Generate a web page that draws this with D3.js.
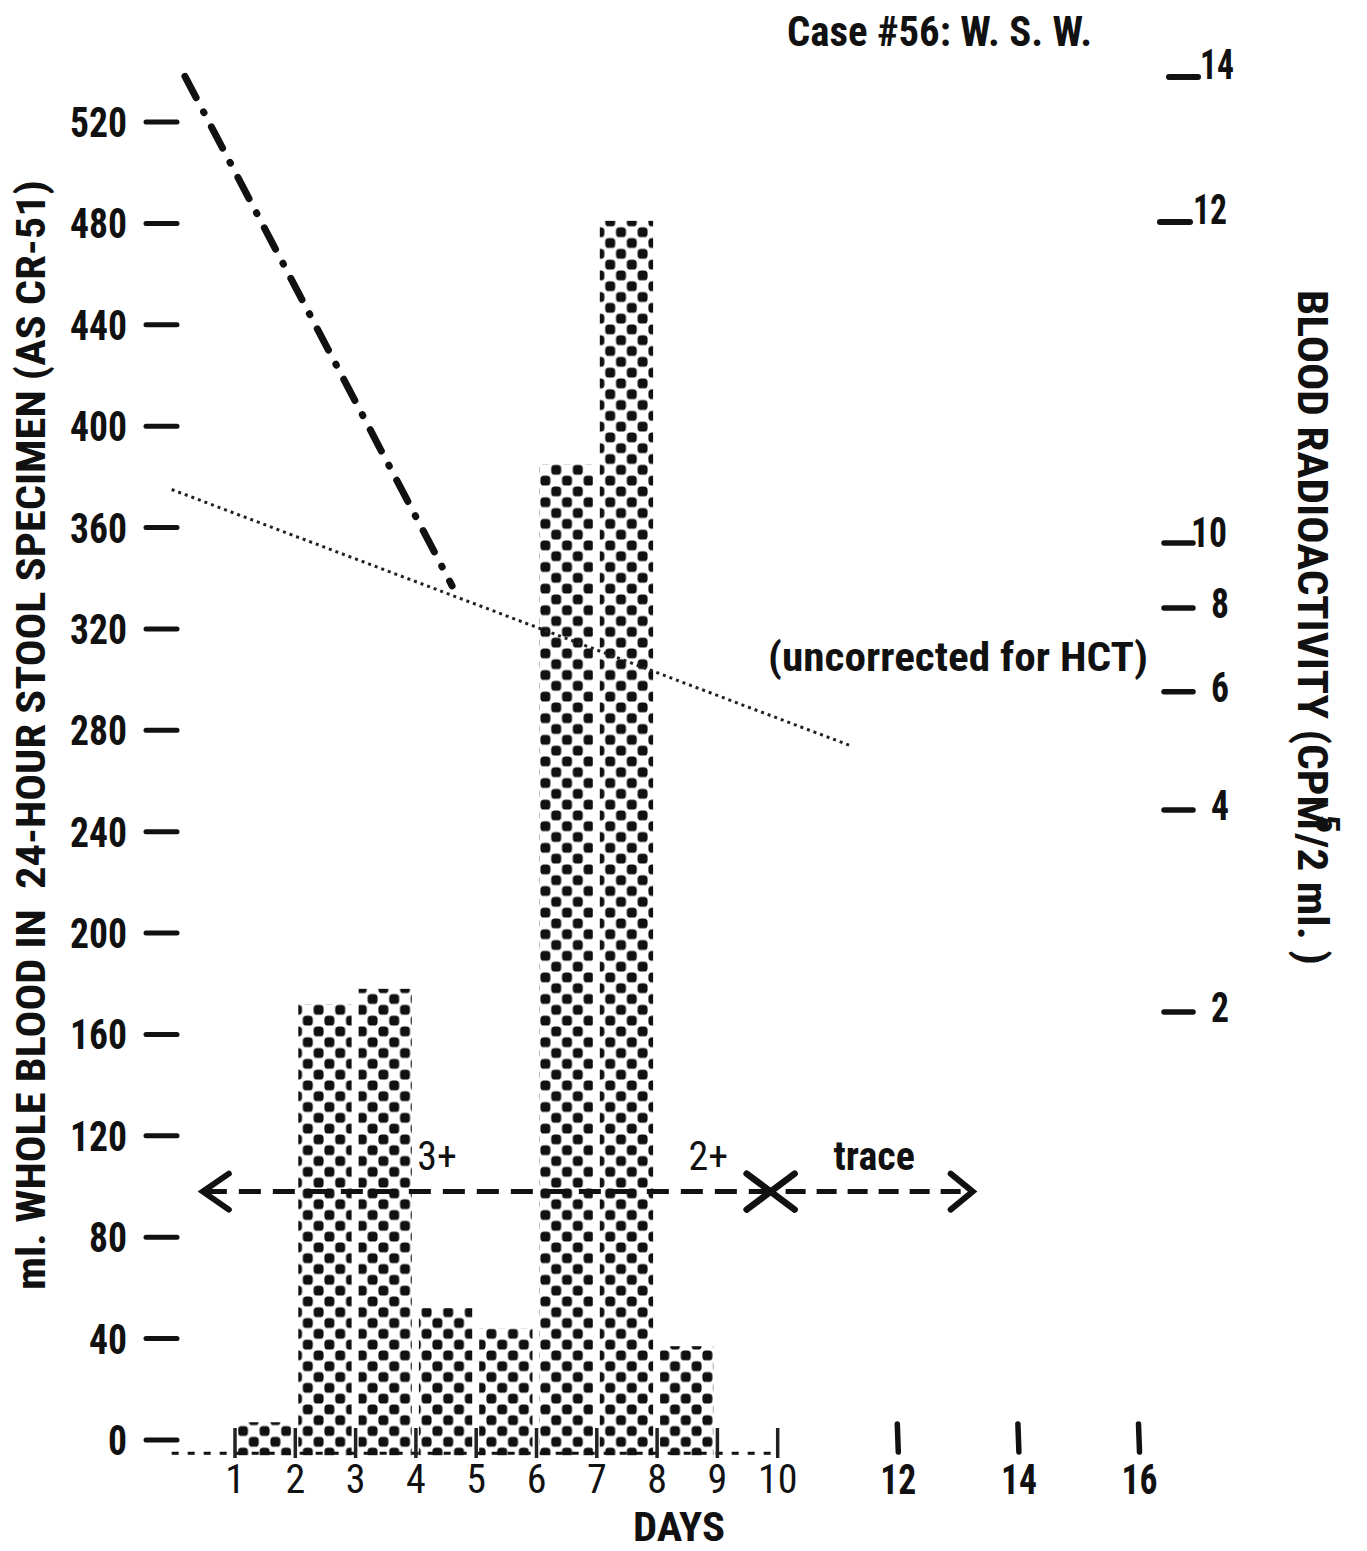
<!DOCTYPE html>
<html>
<head>
<meta charset="utf-8">
<script src="https://cdn.jsdelivr.net/npm/d3@7"></script>
<style>
  body { margin: 0; background: #fff; }
  text { font-family: "Liberation Sans Narrow", "Roboto Condensed", "DejaVu Sans Condensed", "Liberation Sans", sans-serif; fill: #111; }
</style>
</head>
<body>
<svg id="area" width="1367" height="1551"></svg>
<script>
// stool blood per day (ml.)
const barDays = [1, 2, 3, 4, 5, 6, 7, 8];
const barValues = [7, 172, 178, 52, 44, 385, 481, 37];

// left axis ticks
const leftTicks = [0, 40, 80, 120, 160, 200, 240, 280, 320, 360, 400, 440, 480, 520];
// day ticks
const dayTicks = [1, 2, 3, 4, 5, 6, 7, 8, 9, 10];
const dayTicksWide = [12, 14, 16];
// right axis (blood radioactivity)
const rightTicksLow = [2, 4, 6, 8, 10];
const rightTicksHigh = [12, 14];

// radioactivity lines, read against the left scale
const dashDotDays = [0.17, 4.6];
const dashDotVals = [538, 337];
const dottedDays = [-0.05, 11.2];
const dottedVals = [375, 274];

// occult blood band
const bandY = 98;
const bandLabels = ['3+', '2+', 'trace'];
const bandLabelDays = [4.35, 8.85, 11.6];
const bandStart = 0.5, bandCross = 9.8, bandEnd = 13.2;

const svg = d3.select('#area');

const x = d3.scaleLinear().domain([0, 16]).range([174.7, 1139.5]);
const y = d3.scaleLinear().domain([0, 520]).range([1440, 122]);
const rLow = d3.scaleLog().base(2).domain([2, 8]).range([1012, 608]);
const rHigh = d3.scaleLinear().domain([12, 14]).range([222, 77]);

// pattern for bars
const defs = svg.append('defs');
const pat = defs.append('pattern')
  .attr('id', 'dots')
  .attr('patternUnits', 'userSpaceOnUse')
  .attr('width', 21.6)
  .attr('height', 21.6);
pat.append('rect').attr('width', 21.6).attr('height', 21.6).attr('fill', '#fff');
[[0.4, 0.4], [11.2, 11.2]].forEach(([px, py]) => {
  pat.append('rect')
    .attr('x', px).attr('y', py)
    .attr('width', 10).attr('height', 10)
    .attr('rx', 3.6)
    .attr('fill', '#111');
});

// bars
const barBase = -6;
svg.append('g')
  .selectAll('rect')
  .data(barDays)
  .join('rect')
  .attr('x', (d) => x(d) + 3)
  .attr('width', (d) => x(d + 1) - x(d) - 7)
  .attr('y', (d, i) => y(barValues[i]))
  .attr('height', (d, i) => y(barBase) - y(barValues[i]))
  .attr('fill', 'url(#dots)');

// baseline
svg.append('line')
  .attr('x1', x(-0.05)).attr('x2', x(10))
  .attr('y1', y(barBase) - 2).attr('y2', y(barBase) - 2)
  .attr('stroke', '#111')
  .attr('stroke-width', 3)
  .attr('stroke-dasharray', '7,9');

// left axis
const leftAxis = svg.append('g');
leftAxis.selectAll('line')
  .data(leftTicks)
  .join('line')
  .attr('x1', 146).attr('x2', 177)
  .attr('y1', (d) => y(d)).attr('y2', (d) => y(d))
  .attr('stroke', '#111')
  .attr('stroke-width', 5)
  .attr('stroke-linecap', 'round');
leftAxis.selectAll('text')
  .data(leftTicks)
  .join('text')
  .attr('x', 127)
  .attr('y', (d) => y(d) + 15)
  .attr('text-anchor', 'end')
  .attr('font-size', 42)
  .attr('font-weight', 'bold')
  .attr('textLength', (d) => String(d).length * 19)
  .attr('lengthAdjust', 'spacingAndGlyphs')
  .text((d) => d);

// day axis
const dayAxis = svg.append('g');
dayAxis.selectAll('line')
  .data(dayTicks)
  .join('line')
  .attr('x1', (d) => x(d)).attr('x2', (d) => x(d))
  .attr('y1', 1428).attr('y2', 1458)
  .attr('stroke', '#222')
  .attr('stroke-width', 3.5);
dayAxis.selectAll('text.d')
  .data(dayTicks)
  .join('text')
  .attr('class', 'd')
  .attr('x', (d) => x(d))
  .attr('y', 1493)
  .attr('text-anchor', 'middle')
  .attr('font-size', 40)
  .text((d) => d);

dayAxis.selectAll('line.w')
  .data(dayTicksWide)
  .join('line')
  .attr('class', 'w')
  .attr('x1', (d) => x(d) - 1).attr('x2', (d) => x(d))
  .attr('y1', 1424).attr('y2', 1452)
  .attr('stroke', '#111')
  .attr('stroke-width', 5.5)
  .attr('stroke-linecap', 'round');
dayAxis.selectAll('text.w')
  .data(dayTicksWide)
  .join('text')
  .attr('class', 'w')
  .attr('x', (d) => x(d))
  .attr('y', 1494)
  .attr('text-anchor', 'middle')
  .attr('font-size', 42)
  .attr('font-weight', 'bold')
  .attr('textLength', 36)
  .attr('lengthAdjust', 'spacingAndGlyphs')
  .text((d) => d);

svg.append('text')
  .attr('x', 679).attr('y', 1541)
  .attr('text-anchor', 'middle')
  .attr('font-size', 41)
  .attr('font-weight', 'bold')
  .attr('textLength', 92)
  .attr('lengthAdjust', 'spacingAndGlyphs')
  .text('DAYS');

// right axis
const rightAxis = svg.append('g');
rightAxis.selectAll('line.l')
  .data(rightTicksLow)
  .join('line')
  .attr('class', 'l')
  .attr('x1', 1164).attr('x2', 1193)
  .attr('y1', (d) => rLow(d)).attr('y2', (d) => rLow(d))
  .attr('stroke', '#111')
  .attr('stroke-width', 5.5)
  .attr('stroke-linecap', 'round');
rightAxis.selectAll('text.l')
  .data(rightTicksLow)
  .join('text')
  .attr('class', 'l')
  .attr('x', (d) => (d === 10 ? 1191 : 1211))
  .attr('y', (d) => rLow(d) + (d === 10 ? 4 : 10))
  .attr('font-size', 42)
  .attr('font-weight', 'bold')
  .attr('textLength', (d) => String(d).length * 18)
  .attr('lengthAdjust', 'spacingAndGlyphs')
  .text((d) => d);
rightAxis.selectAll('line.h')
  .data(rightTicksHigh)
  .join('line')
  .attr('class', 'h')
  .attr('x1', (d) => (d === 14 ? 1169 : 1160)).attr('x2', (d) => (d === 14 ? 1198 : 1190))
  .attr('y1', (d) => rHigh(d)).attr('y2', (d) => rHigh(d))
  .attr('stroke', '#111')
  .attr('stroke-width', 6)
  .attr('stroke-linecap', 'round');
rightAxis.selectAll('text.h')
  .data(rightTicksHigh)
  .join('text')
  .attr('class', 'h')
  .attr('x', (d) => (d === 14 ? 1200 : 1193))
  .attr('y', (d) => rHigh(d) + 2)
  .attr('font-size', 42)
  .attr('font-weight', 'bold')
  .attr('textLength', 34)
  .attr('lengthAdjust', 'spacingAndGlyphs')
  .text((d) => d);

// axis titles
svg.append('text')
  .attr('transform', 'translate(45,735) rotate(-90)')
  .attr('text-anchor', 'middle')
  .attr('font-size', 40)
  .attr('font-weight', 'bold')
  .attr('textLength', 1110)
  .attr('lengthAdjust', 'spacingAndGlyphs')
  .text('ml. WHOLE BLOOD IN\u00a0 24-HOUR STOOL SPECIMEN (AS CR-51)');

const rt = svg.append('text')
  .attr('transform', 'translate(1298,290) rotate(90)')
  .attr('font-size', 42)
  .attr('font-weight', 'bold')
  .attr('textLength', 675)
  .attr('lengthAdjust', 'spacingAndGlyphs');
rt.append('tspan').text('BLOOD RADIOACTIVITY (CPM');
rt.append('tspan').attr('dy', -18).attr('dx', -14).attr('font-size', 34).text('5');
rt.append('tspan').attr('dy', 18).text('/2 ml. )');

// title and note
svg.append('text')
  .attr('x', 787).attr('y', 46)
  .attr('font-size', 42)
  .attr('font-weight', 'bold')
  .attr('textLength', 305)
  .attr('lengthAdjust', 'spacingAndGlyphs')
  .text('Case #56: W. S. W.');

svg.append('text')
  .attr('x', 768).attr('y', 671)
  .attr('font-size', 40)
  .attr('font-weight', 'bold')
  .attr('textLength', 380)
  .attr('lengthAdjust', 'spacingAndGlyphs')
  .text('(uncorrected for HCT)');

// radioactivity lines
const line = d3.line().x((d) => x(d[0])).y((d) => y(d[1]));
svg.append('path')
  .attr('d', line(d3.zip(dashDotDays, dashDotVals)))
  .attr('fill', 'none')
  .attr('stroke', '#111')
  .attr('stroke-width', 7)
  .attr('stroke-linecap', 'round')
  .attr('stroke-dasharray', '24,16,1,16');

svg.append('path')
  .attr('d', line(d3.zip(dottedDays, dottedVals)))
  .attr('fill', 'none')
  .attr('stroke', '#222')
  .attr('stroke-width', 3)
  .attr('stroke-dasharray', '3,4');

// occult blood band
const by = y(bandY);
const band = svg.append('g').attr('stroke', '#111').attr('fill', 'none').attr('stroke-width', 5);
band.append('line')
  .attr('x1', x(bandStart)).attr('x2', x(bandCross))
  .attr('y1', by).attr('y2', by)
  .attr('stroke-dasharray', '22,12');
band.append('line')
  .attr('x1', x(bandCross) + 20).attr('x2', x(bandEnd))
  .attr('y1', by).attr('y2', by)
  .attr('stroke-dasharray', '20,11');
band.append('path')
  .attr('d', `M${x(bandStart) + 24},${by - 18} L${x(bandStart) - 2},${by} L${x(bandStart) + 24},${by + 18}`)
  .attr('stroke-width', 6)
  .attr('stroke-linecap', 'round');
band.append('path')
  .attr('d', `M${x(bandEnd) - 20},${by - 18} L${x(bandEnd) + 2},${by} L${x(bandEnd) - 20},${by + 18}`)
  .attr('stroke-width', 6)
  .attr('stroke-linecap', 'round');
const cx = x(bandCross) + 5;
band.append('path')
  .attr('d', `M${cx - 24},${by - 18} L${cx + 24},${by + 18} M${cx - 24},${by + 18} L${cx + 24},${by - 18}`)
  .attr('stroke-width', 6.5)
  .attr('stroke-linecap', 'round');

svg.append('g')
  .selectAll('text')
  .data(bandLabels)
  .join('text')
  .attr('x', (d, i) => x(bandLabelDays[i]))
  .attr('y', by - 22)
  .attr('text-anchor', 'middle')
  .attr('font-size', 40)
  .attr('font-weight', (d) => (d === 'trace' ? 'bold' : 'normal'))
  .text((d) => d);
</script>
</body>
</html>
